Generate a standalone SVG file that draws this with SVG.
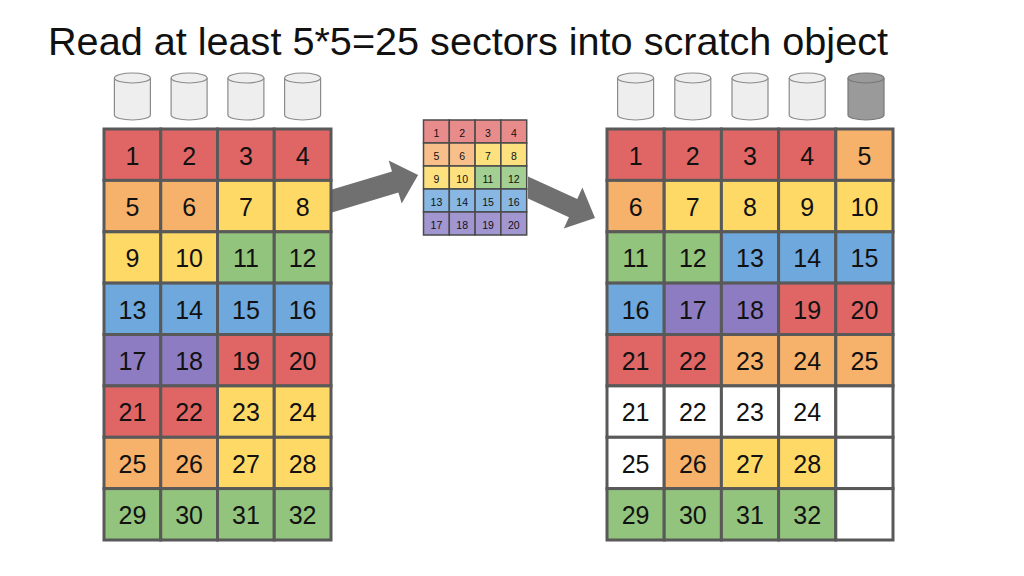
<svg xmlns="http://www.w3.org/2000/svg" width="1024" height="576" viewBox="0 0 1024 576">
<style>
text{font-family:"Liberation Sans",Arial,Helvetica,sans-serif;fill:#111;text-anchor:middle}
.t{font-size:25px}
.s{font-size:10.5px}
.c rect{stroke:#595959;stroke-width:3}
.m rect{stroke:#4a4a4a;stroke-width:1.5}
.R{fill:#e06666}.O{fill:#f6b26b}.Y{fill:#ffd966}.G{fill:#93c47d}.B{fill:#6fa8dc}.P{fill:#8e7cc3}.W{fill:#ffffff}
.r{fill:#e88b8b}.o{fill:#f8bf8a}.y{fill:#fde17f}.g{fill:#a4cf92}.b{fill:#88b7e3}.p{fill:#a296d1}
.cyl{fill:#eeeeee;stroke:#8a8a8a;stroke-width:1.2}
.cyd{fill:#9a9a9a;stroke:#777777;stroke-width:1.2}
.arr{fill:#707070}
</style>
<defs>
<g id="cyl"><path d="M-18,78 V115 A18,5 0 0 0 18,115 V78"/><ellipse cx="0" cy="78" rx="18" ry="5"/></g>
</defs>
<text x="48" y="55" style="font-size:38.5px;text-anchor:start" textLength="840" lengthAdjust="spacingAndGlyphs">Read at least 5*5=25 sectors into scratch object</text>

<g id="connectors">
<polygon class="arr" points="332,189.5 392,171.4 388.7,160.4 418.1,175 401.7,203.4 398.4,192.4 332,212.5"/>
<polygon class="arr" points="528,176.5 577.25,199 582.4,187.6 595,218 563.8,228.6 568.95,217.2 528,198.5"/>
</g>

<g id="disks-left">
<use href="#cyl" class="cyl" x="132.4"/>
<use href="#cyl" class="cyl" x="189.1"/>
<use href="#cyl" class="cyl" x="245.9"/>
<use href="#cyl" class="cyl" x="302.6"/>
</g>
<g id="disks-right">
<use href="#cyl" class="cyl" x="635.6"/>
<use href="#cyl" class="cyl" x="692.8"/>
<use href="#cyl" class="cyl" x="750"/>
<use href="#cyl" class="cyl" x="807.2"/>
<use href="#cyl" class="cyd" x="866"/>
</g>

<g id="left-grid" class="c">
<g id="L1"><rect class="R" x="104" y="129" width="56.75" height="51.4"/><text class="t" x="132.4" y="164.5">1</text></g>
<g id="L2"><rect class="R" x="160.75" y="129" width="56.75" height="51.4"/><text class="t" x="189.1" y="164.5">2</text></g>
<g id="L3"><rect class="R" x="217.5" y="129" width="56.75" height="51.4"/><text class="t" x="245.9" y="164.5">3</text></g>
<g id="L4"><rect class="R" x="274.25" y="129" width="56.75" height="51.4"/><text class="t" x="302.6" y="164.5">4</text></g>
<g id="L5"><rect class="O" x="104" y="180.4" width="56.75" height="51.4"/><text class="t" x="132.4" y="215.9">5</text></g>
<g id="L6"><rect class="O" x="160.75" y="180.4" width="56.75" height="51.4"/><text class="t" x="189.1" y="215.9">6</text></g>
<g id="L7"><rect class="Y" x="217.5" y="180.4" width="56.75" height="51.4"/><text class="t" x="245.9" y="215.9">7</text></g>
<g id="L8"><rect class="Y" x="274.25" y="180.4" width="56.75" height="51.4"/><text class="t" x="302.6" y="215.9">8</text></g>
<g id="L9"><rect class="Y" x="104" y="231.8" width="56.75" height="51.4"/><text class="t" x="132.4" y="267.3">9</text></g>
<g id="L10"><rect class="Y" x="160.75" y="231.8" width="56.75" height="51.4"/><text class="t" x="189.1" y="267.3">10</text></g>
<g id="L11"><rect class="G" x="217.5" y="231.8" width="56.75" height="51.4"/><text class="t" x="245.9" y="267.3">11</text></g>
<g id="L12"><rect class="G" x="274.25" y="231.8" width="56.75" height="51.4"/><text class="t" x="302.6" y="267.3">12</text></g>
<g id="L13"><rect class="B" x="104" y="283.1" width="56.75" height="51.4"/><text class="t" x="132.4" y="318.6">13</text></g>
<g id="L14"><rect class="B" x="160.75" y="283.1" width="56.75" height="51.4"/><text class="t" x="189.1" y="318.6">14</text></g>
<g id="L15"><rect class="B" x="217.5" y="283.1" width="56.75" height="51.4"/><text class="t" x="245.9" y="318.6">15</text></g>
<g id="L16"><rect class="B" x="274.25" y="283.1" width="56.75" height="51.4"/><text class="t" x="302.6" y="318.6">16</text></g>
<g id="L17"><rect class="P" x="104" y="334.5" width="56.75" height="51.4"/><text class="t" x="132.4" y="370">17</text></g>
<g id="L18"><rect class="P" x="160.75" y="334.5" width="56.75" height="51.4"/><text class="t" x="189.1" y="370">18</text></g>
<g id="L19"><rect class="R" x="217.5" y="334.5" width="56.75" height="51.4"/><text class="t" x="245.9" y="370">19</text></g>
<g id="L20"><rect class="R" x="274.25" y="334.5" width="56.75" height="51.4"/><text class="t" x="302.6" y="370">20</text></g>
<g id="L21"><rect class="R" x="104" y="385.9" width="56.75" height="51.4"/><text class="t" x="132.4" y="421.4">21</text></g>
<g id="L22"><rect class="R" x="160.75" y="385.9" width="56.75" height="51.4"/><text class="t" x="189.1" y="421.4">22</text></g>
<g id="L23"><rect class="Y" x="217.5" y="385.9" width="56.75" height="51.4"/><text class="t" x="245.9" y="421.4">23</text></g>
<g id="L24"><rect class="Y" x="274.25" y="385.9" width="56.75" height="51.4"/><text class="t" x="302.6" y="421.4">24</text></g>
<g id="L25"><rect class="O" x="104" y="437.3" width="56.75" height="51.4"/><text class="t" x="132.4" y="472.8">25</text></g>
<g id="L26"><rect class="O" x="160.75" y="437.3" width="56.75" height="51.4"/><text class="t" x="189.1" y="472.8">26</text></g>
<g id="L27"><rect class="Y" x="217.5" y="437.3" width="56.75" height="51.4"/><text class="t" x="245.9" y="472.8">27</text></g>
<g id="L28"><rect class="Y" x="274.25" y="437.3" width="56.75" height="51.4"/><text class="t" x="302.6" y="472.8">28</text></g>
<g id="L29"><rect class="G" x="104" y="488.6" width="56.75" height="51.4"/><text class="t" x="132.4" y="524.1">29</text></g>
<g id="L30"><rect class="G" x="160.75" y="488.6" width="56.75" height="51.4"/><text class="t" x="189.1" y="524.1">30</text></g>
<g id="L31"><rect class="G" x="217.5" y="488.6" width="56.75" height="51.4"/><text class="t" x="245.9" y="524.1">31</text></g>
<g id="L32"><rect class="G" x="274.25" y="488.6" width="56.75" height="51.4"/><text class="t" x="302.6" y="524.1">32</text></g>
</g>

<g id="scratch-grid" class="m">
<g id="M1"><rect class="r" x="423.5" y="120" width="25.8" height="23"/><text class="s" x="436.4" y="136.5">1</text></g>
<g id="M2"><rect class="r" x="449.3" y="120" width="25.8" height="23"/><text class="s" x="462.2" y="136.5">2</text></g>
<g id="M3"><rect class="r" x="475.1" y="120" width="25.8" height="23"/><text class="s" x="488" y="136.5">3</text></g>
<g id="M4"><rect class="r" x="500.9" y="120" width="25.8" height="23"/><text class="s" x="513.8" y="136.5">4</text></g>
<g id="M5"><rect class="o" x="423.5" y="143" width="25.8" height="23"/><text class="s" x="436.4" y="159.5">5</text></g>
<g id="M6"><rect class="o" x="449.3" y="143" width="25.8" height="23"/><text class="s" x="462.2" y="159.5">6</text></g>
<g id="M7"><rect class="y" x="475.1" y="143" width="25.8" height="23"/><text class="s" x="488" y="159.5">7</text></g>
<g id="M8"><rect class="y" x="500.9" y="143" width="25.8" height="23"/><text class="s" x="513.8" y="159.5">8</text></g>
<g id="M9"><rect class="y" x="423.5" y="166" width="25.8" height="23"/><text class="s" x="436.4" y="182.5">9</text></g>
<g id="M10"><rect class="y" x="449.3" y="166" width="25.8" height="23"/><text class="s" x="462.2" y="182.5">10</text></g>
<g id="M11"><rect class="g" x="475.1" y="166" width="25.8" height="23"/><text class="s" x="488" y="182.5">11</text></g>
<g id="M12"><rect class="g" x="500.9" y="166" width="25.8" height="23"/><text class="s" x="513.8" y="182.5">12</text></g>
<g id="M13"><rect class="b" x="423.5" y="189" width="25.8" height="23"/><text class="s" x="436.4" y="205.5">13</text></g>
<g id="M14"><rect class="b" x="449.3" y="189" width="25.8" height="23"/><text class="s" x="462.2" y="205.5">14</text></g>
<g id="M15"><rect class="b" x="475.1" y="189" width="25.8" height="23"/><text class="s" x="488" y="205.5">15</text></g>
<g id="M16"><rect class="b" x="500.9" y="189" width="25.8" height="23"/><text class="s" x="513.8" y="205.5">16</text></g>
<g id="M17"><rect class="p" x="423.5" y="212" width="25.8" height="23"/><text class="s" x="436.4" y="228.5">17</text></g>
<g id="M18"><rect class="p" x="449.3" y="212" width="25.8" height="23"/><text class="s" x="462.2" y="228.5">18</text></g>
<g id="M19"><rect class="p" x="475.1" y="212" width="25.8" height="23"/><text class="s" x="488" y="228.5">19</text></g>
<g id="M20"><rect class="p" x="500.9" y="212" width="25.8" height="23"/><text class="s" x="513.8" y="228.5">20</text></g>
</g>

<g id="right-grid" class="c">
<g id="R1"><rect class="R" x="607" y="129" width="57.2" height="51.4"/><text class="t" x="635.6" y="164.5">1</text></g>
<g id="R2"><rect class="R" x="664.2" y="129" width="57.2" height="51.4"/><text class="t" x="692.8" y="164.5">2</text></g>
<g id="R3"><rect class="R" x="721.4" y="129" width="57.2" height="51.4"/><text class="t" x="750" y="164.5">3</text></g>
<g id="R4"><rect class="R" x="778.6" y="129" width="57.2" height="51.4"/><text class="t" x="807.2" y="164.5">4</text></g>
<g id="R5"><rect class="O" x="835.8" y="129" width="57.2" height="51.4"/><text class="t" x="864.4" y="164.5">5</text></g>
<g id="R6"><rect class="O" x="607" y="180.4" width="57.2" height="51.4"/><text class="t" x="635.6" y="215.9">6</text></g>
<g id="R7"><rect class="Y" x="664.2" y="180.4" width="57.2" height="51.4"/><text class="t" x="692.8" y="215.9">7</text></g>
<g id="R8"><rect class="Y" x="721.4" y="180.4" width="57.2" height="51.4"/><text class="t" x="750" y="215.9">8</text></g>
<g id="R9"><rect class="Y" x="778.6" y="180.4" width="57.2" height="51.4"/><text class="t" x="807.2" y="215.9">9</text></g>
<g id="R10"><rect class="Y" x="835.8" y="180.4" width="57.2" height="51.4"/><text class="t" x="864.4" y="215.9">10</text></g>
<g id="R11"><rect class="G" x="607" y="231.8" width="57.2" height="51.4"/><text class="t" x="635.6" y="267.3">11</text></g>
<g id="R12"><rect class="G" x="664.2" y="231.8" width="57.2" height="51.4"/><text class="t" x="692.8" y="267.3">12</text></g>
<g id="R13"><rect class="B" x="721.4" y="231.8" width="57.2" height="51.4"/><text class="t" x="750" y="267.3">13</text></g>
<g id="R14"><rect class="B" x="778.6" y="231.8" width="57.2" height="51.4"/><text class="t" x="807.2" y="267.3">14</text></g>
<g id="R15"><rect class="B" x="835.8" y="231.8" width="57.2" height="51.4"/><text class="t" x="864.4" y="267.3">15</text></g>
<g id="R16"><rect class="B" x="607" y="283.1" width="57.2" height="51.4"/><text class="t" x="635.6" y="318.6">16</text></g>
<g id="R17"><rect class="P" x="664.2" y="283.1" width="57.2" height="51.4"/><text class="t" x="692.8" y="318.6">17</text></g>
<g id="R18"><rect class="P" x="721.4" y="283.1" width="57.2" height="51.4"/><text class="t" x="750" y="318.6">18</text></g>
<g id="R19"><rect class="R" x="778.6" y="283.1" width="57.2" height="51.4"/><text class="t" x="807.2" y="318.6">19</text></g>
<g id="R20"><rect class="R" x="835.8" y="283.1" width="57.2" height="51.4"/><text class="t" x="864.4" y="318.6">20</text></g>
<g id="R21"><rect class="R" x="607" y="334.5" width="57.2" height="51.4"/><text class="t" x="635.6" y="370">21</text></g>
<g id="R22"><rect class="R" x="664.2" y="334.5" width="57.2" height="51.4"/><text class="t" x="692.8" y="370">22</text></g>
<g id="R23"><rect class="O" x="721.4" y="334.5" width="57.2" height="51.4"/><text class="t" x="750" y="370">23</text></g>
<g id="R24"><rect class="O" x="778.6" y="334.5" width="57.2" height="51.4"/><text class="t" x="807.2" y="370">24</text></g>
<g id="R25"><rect class="O" x="835.8" y="334.5" width="57.2" height="51.4"/><text class="t" x="864.4" y="370">25</text></g>
<g id="R26"><rect class="W" x="607" y="385.9" width="57.2" height="51.4"/><text class="t" x="635.6" y="421.4">21</text></g>
<g id="R27"><rect class="W" x="664.2" y="385.9" width="57.2" height="51.4"/><text class="t" x="692.8" y="421.4">22</text></g>
<g id="R28"><rect class="W" x="721.4" y="385.9" width="57.2" height="51.4"/><text class="t" x="750" y="421.4">23</text></g>
<g id="R29"><rect class="W" x="778.6" y="385.9" width="57.2" height="51.4"/><text class="t" x="807.2" y="421.4">24</text></g>
<g id="R30"><rect class="W" x="835.8" y="385.9" width="57.2" height="51.4"/></g>
<g id="R31"><rect class="W" x="607" y="437.3" width="57.2" height="51.4"/><text class="t" x="635.6" y="472.8">25</text></g>
<g id="R32"><rect class="O" x="664.2" y="437.3" width="57.2" height="51.4"/><text class="t" x="692.8" y="472.8">26</text></g>
<g id="R33"><rect class="Y" x="721.4" y="437.3" width="57.2" height="51.4"/><text class="t" x="750" y="472.8">27</text></g>
<g id="R34"><rect class="Y" x="778.6" y="437.3" width="57.2" height="51.4"/><text class="t" x="807.2" y="472.8">28</text></g>
<g id="R35"><rect class="W" x="835.8" y="437.3" width="57.2" height="51.4"/></g>
<g id="R36"><rect class="G" x="607" y="488.6" width="57.2" height="51.4"/><text class="t" x="635.6" y="524.1">29</text></g>
<g id="R37"><rect class="G" x="664.2" y="488.6" width="57.2" height="51.4"/><text class="t" x="692.8" y="524.1">30</text></g>
<g id="R38"><rect class="G" x="721.4" y="488.6" width="57.2" height="51.4"/><text class="t" x="750" y="524.1">31</text></g>
<g id="R39"><rect class="G" x="778.6" y="488.6" width="57.2" height="51.4"/><text class="t" x="807.2" y="524.1">32</text></g>
<g id="R40"><rect class="W" x="835.8" y="488.6" width="57.2" height="51.4"/></g>
</g>
</svg>
